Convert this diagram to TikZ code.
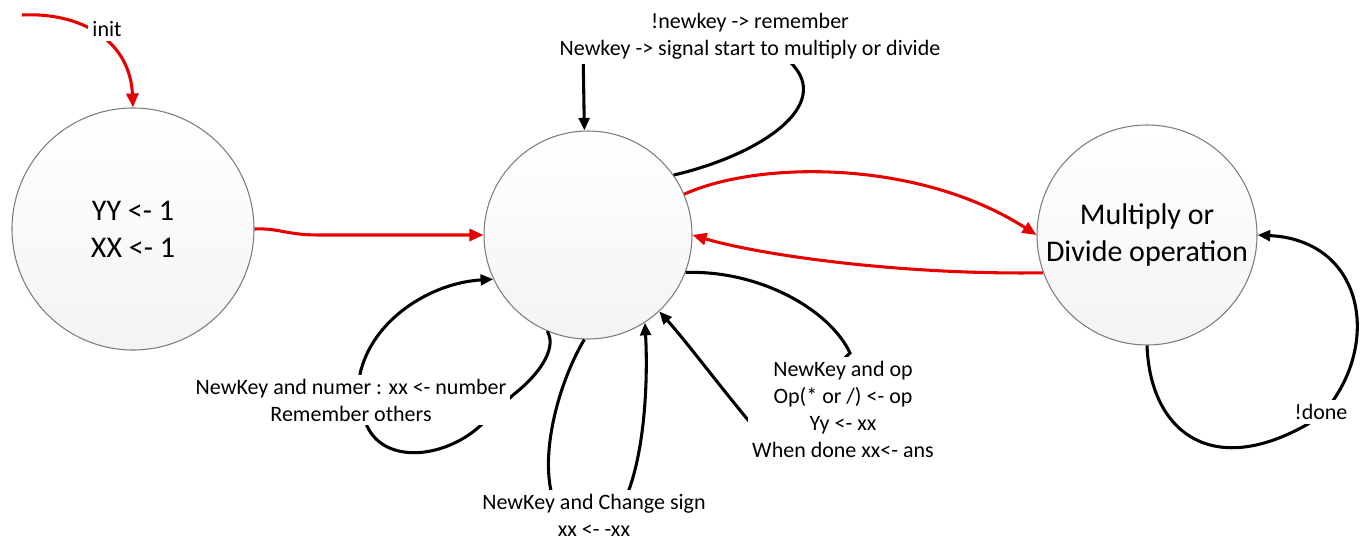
\documentclass[tikz,border=0pt]{standalone}
\usepackage{fontspec}
\setmainfont{Carlito}
\usetikzlibrary{arrows.meta}
\definecolor{redline}{RGB}{232,0,0}
\definecolor{circedge}{RGB}{125,125,125}
\tikzset{
  statenode/.style={circle, draw=circedge, line width=0.8pt, top color=white, bottom color=gray!9,
    minimum size=#1, inner sep=0pt, align=center, font=\fontsize{22.5}{27.75}\selectfont},
  redarrow/.style={draw=redline, line width=2.3pt, -{Triangle[length=10.5pt,width=9pt]}},
  blkarrow/.style={draw=black, line width=2.3pt, -{Triangle[length=9.5pt,width=8pt]}},
  lbl/.style={fill=white, inner sep=3pt, align=center, font=\fontsize{16.5}{20.25}\selectfont},
}
\begin{document}
\begin{tikzpicture}[x=0.75pt,y=-0.75pt]
\useasboundingbox (0,0) rectangle (1369,542);
% states
\node[statenode=181.5pt] (c1) at (133,229) {YY <- 1\\XX <- 1};
\node[statenode=156pt] (c2) at (588,235) {};
\node[statenode=165pt] (c3) at (1147,235) {Multiply or\\Divide operation};
\coordinate (i0) at (22,15);
% red transitions
\draw[redarrow] (i0) .. controls (80,12) and (130,40) .. (c1.north);
\draw[redarrow] (c1.east) .. controls (280,228) and (285,235) .. (320,235) -- (c2.west);
\draw[redarrow] (c2.23) .. controls (760,160) and (920,160) .. (c3.west);
\draw[redarrow] (c3.200) .. controls (900,275) and (760,255) .. (c2.east);
% black self loops
\draw[blkarrow] (c2.35) .. controls (760,155) and (835,105) .. (790,62) -- (790,45) -- (583,45) -- (c2.92);
\draw[blkarrow] (c2.-21) .. controls (760,270) and (830,310) .. (850,353) -- (800,400) -- (748,420)
  .. controls (715,380) and (685,340) .. (c2.-47);
\draw[blkarrow] (c2.-92) .. controls (560,380) and (540,450) .. (552,495) -- (627,495)
  .. controls (645,450) and (648,380) .. (c2.-57);
\draw[blkarrow] (c2.-113) .. controls (556,345) and (545,370) .. (513,395) -- (480,426)
  .. controls (445,458) and (385,465) .. (367,426) -- (360,374)
  .. controls (372,320) and (430,283) .. (c2.205);
\draw[blkarrow] (c3.-90) .. controls (1150,430) and (1210,480) .. (1308,424) -- (1332,402)
  .. controls (1380,335) and (1360,240) .. (c3.east);
% labels
\node[lbl] (Ltop) at (750,36.5) {!newkey -> remember\\Newkey -> signal start to multiply or divide};
\node[lbl] (Lop) at (843,409) {NewKey and op\\Op(* or /) <- op\\Yy <- xx\\When done xx<- ans};
\node[lbl] (Lnum) at (351,400) {NewKey and numer : xx <- number\\Remember others};
\node[lbl] (Lsign) at (594,515) {NewKey and Change sign\\xx <- -xx};
\node[lbl] (Ldone) at (1321,412) {!done};
\node[lbl] (Linit) at (107,29) {init};
\end{tikzpicture}
\end{document}
